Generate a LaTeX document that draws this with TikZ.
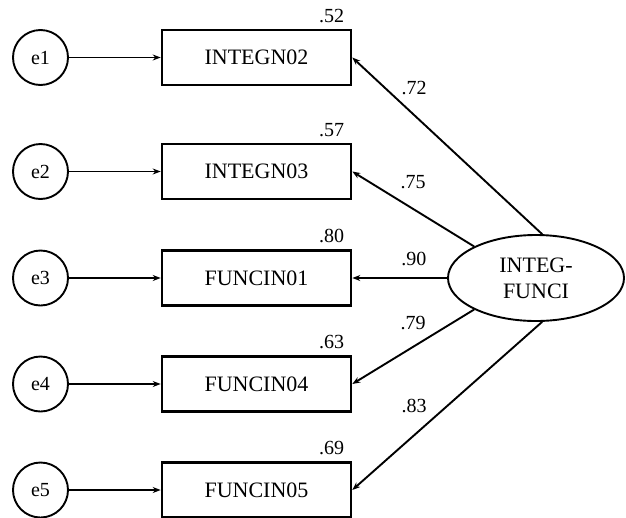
\documentclass[tikz,border=0pt]{standalone}
\usepackage{fontspec}
\setmainfont{Liberation Serif}
\usetikzlibrary{arrows.meta, positioning, shapes.geometric}

\begin{document}
\begin{tikzpicture}[x=1pt, y=-1pt, >={Stealth[length=8pt, width=6pt]},
    errCircle/.style={draw, circle, line width=1.9pt, minimum size=55pt, inner sep=0pt, font=\fontsize{20}{24}\selectfont},
    obsBox/.style={draw, rectangle, line width=2.6pt, minimum width=189pt, minimum height=55pt, inner sep=0pt, font=\fontsize{22}{26}\selectfont},
    numLabel/.style={inner sep=0pt, font=\fontsize{20}{24}\selectfont},
    path/.style={->, line width=1.9pt}]
    \useasboundingbox (0,0) rectangle (626,517);

    % Error terms
    \node[errCircle] (e1) at (40.5,57.5) {e1};
    \node[errCircle] (e2) at (40.5,171.5) {e2};
    \node[errCircle] (e3) at (40.5,278) {e3};
    \node[errCircle] (e4) at (40.5,384) {e4};
    \node[errCircle] (e5) at (40.5,490) {e5};

    % Observed variables
    \node[obsBox] (INTEGN02) at (256.5,57.5) {INTEGN02};
    \node[obsBox] (INTEGN03) at (256.5,171.5) {INTEGN03};
    \node[obsBox] (FUNCIN01) at (256.5,278) {FUNCIN01};
    \node[obsBox] (FUNCIN04) at (256.5,384) {FUNCIN04};
    \node[obsBox] (FUNCIN05) at (256.5,490) {FUNCIN05};

    % Latent factor
    \node[draw, ellipse, line width=1.9pt, minimum width=176pt, minimum height=86pt, inner sep=0pt,
          align=center, font=\fontsize{22}{26}\selectfont] (F) at (536,278) {INTEG-\\FUNCI};

    % Error paths
    \draw[path] (e1) -- (INTEGN02);
    \draw[path] (e2) -- (INTEGN03);
    \draw[path] (e3) -- (FUNCIN01);
    \draw[path] (e4) -- (FUNCIN04);
    \draw[path] (e5) -- (FUNCIN05);

    % Loadings
    \draw[path] (F.82) -- (INTEGN02.east) node[numLabel, pos=0.675, yshift=27pt] (w1) {.72};
    \draw[path] (F.153) -- (INTEGN03.east) node[numLabel, pos=0.5, yshift=27pt] (w2) {.75};
    \draw[path] (F.west) -- (FUNCIN01.east) node[numLabel, pos=0.35, yshift=19pt] (w3) {.90};
    \draw[path] (F.207) -- (FUNCIN04.east) node[numLabel, pos=0.5, yshift=24pt] (w4) {.79};
    \draw[path] (F.278) -- (FUNCIN05.east) node[numLabel, pos=0.675, yshift=29pt] (w5) {.83};

    % Squared multiple correlations
    \node[numLabel, anchor=south east] (r1) at ([shift={(-8,-6)}]INTEGN02.north east) {.52};
    \node[numLabel, anchor=south east] (r2) at ([shift={(-8,-6)}]INTEGN03.north east) {.57};
    \node[numLabel, anchor=south east] (r3) at ([shift={(-8,-6)}]FUNCIN01.north east) {.80};
    \node[numLabel, anchor=south east] (r4) at ([shift={(-8,-6)}]FUNCIN04.north east) {.63};
    \node[numLabel, anchor=south east] (r5) at ([shift={(-8,-6)}]FUNCIN05.north east) {.69};
\end{tikzpicture}
\end{document}
